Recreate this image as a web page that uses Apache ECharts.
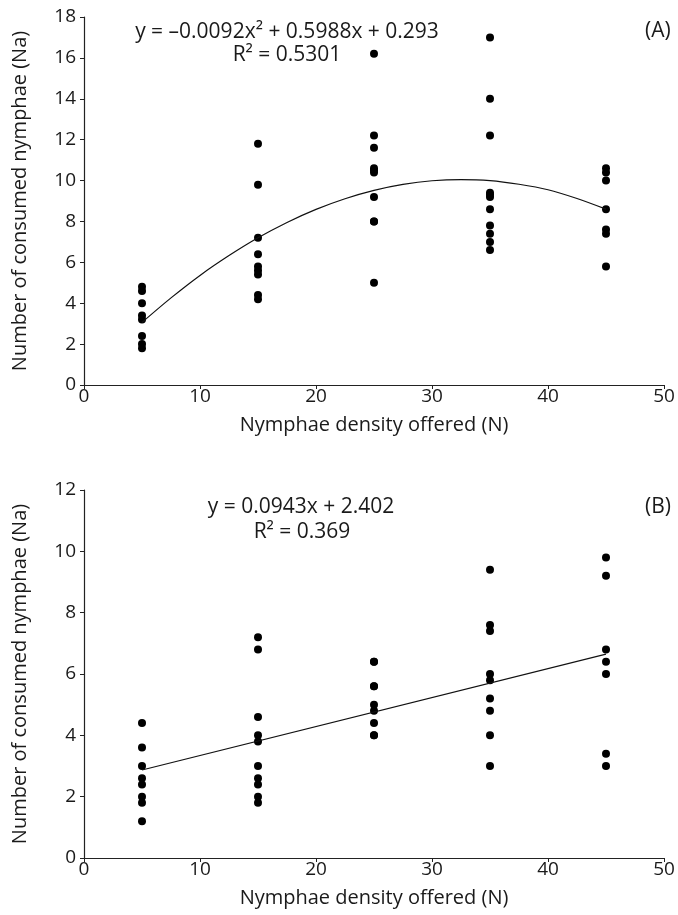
<!DOCTYPE html>
<html>
<head>
<meta charset="utf-8">
<script src="https://cdn.jsdelivr.net/npm/echarts@6/dist/echarts.min.js"></script>
<style>
html,body{margin:0;padding:0;background:#fff;}
#main{width:678px;height:915px;}
</style>
</head>
<body>
<div id="main"></div>
<script>
// panel A : nymphae offered vs consumed
var aX5 = [4.8, 4.6, 4.0, 3.4, 3.2, 2.4, 2.0, 1.8];
var aX15 = [11.8, 9.8, 7.2, 6.4, 5.8, 5.6, 5.4, 4.4, 4.2];
var aX25 = [16.2, 12.2, 11.6, 10.6, 10.5, 10.4, 9.2, 8.0, 8.0, 5.0];
var aX35 = [17.0, 14.0, 12.2, 9.4, 9.3, 9.2, 8.6, 7.8, 7.4, 7.0, 6.6];
var aX45 = [10.6, 10.4, 10.0, 8.6, 7.6, 7.4, 5.8];
// trend curve
var aFitX = [5, 7.5, 10, 12.5, 15, 17.5, 20, 22.5, 25, 27.5, 30, 32.5, 35, 37.5, 40, 42.5, 45];
var aFitY = [3.06, 4.26, 5.36, 6.33, 7.20, 7.95, 8.59, 9.11, 9.52, 9.81, 9.99, 10.05, 10.0, 9.82, 9.55, 9.12, 8.6];

// panel B
var bX5 = [4.4, 3.6, 3.0, 2.6, 2.4, 2.0, 1.8, 1.2];
var bX15 = [7.2, 6.8, 4.6, 4.0, 3.8, 3.0, 2.6, 2.4, 2.0, 1.8];
var bX25 = [6.4, 6.4, 5.6, 5.6, 5.0, 4.8, 4.4, 4.0, 4.0];
var bX35 = [9.4, 7.6, 7.4, 6.0, 5.8, 5.2, 4.8, 4.0, 3.0];
var bX45 = [9.8, 9.2, 6.8, 6.4, 6.0, 3.4, 3.0];
var bFitX = [5, 45];
var bFitY = [2.87, 6.65];

var densities = [5, 15, 25, 35, 45];

function pts(groups) {
	var out = [];
	for (var i = 0; i < groups.length; i++) {
		for (var j = 0; j < groups[i].length; j++) {
			out.push([densities[i], groups[i][j]]);
		}
	}
	return out;
}
function zip(xs, ys) {
	var out = [];
	for (var i = 0; i < xs.length; i++) out.push([xs[i], ys[i]]);
	return out;
}

var fontF = '"Open Sans", sans-serif';
var axisCol = '#222';
var txt = {color: '#1a1a1a', fontFamily: fontF, fontSize: 20};

function xAx(idx) {
	return {
		gridIndex: idx, type: 'value', min: 0, max: 50, interval: 10,
		name: 'Nymphae density offered (N)', nameLocation: 'middle', nameGap: 30,
		nameTextStyle: txt,
		axisLine: {show: true, lineStyle: {color: axisCol, width: 1.2}},
		axisTick: {show: true, length: 4, lineStyle: {color: axisCol}},
		axisLabel: {color: '#1a1a1a', fontFamily: fontF, fontSize: 19, margin: 2},
		splitLine: {show: false}
	};
}
function yAx(idx, max) {
	return {
		gridIndex: idx, type: 'value', min: 0, max: max, interval: 2,
		name: 'Number of consumed nymphae (Na)', nameLocation: 'middle', nameGap: 54,
		nameTextStyle: txt,
		axisLine: {show: true, lineStyle: {color: axisCol, width: 1.2}},
		axisTick: {show: true, length: 4, lineStyle: {color: axisCol}},
		axisLabel: {color: '#1a1a1a', fontFamily: fontF, fontSize: 19, margin: 8},
		splitLine: {show: false}
	};
}
function label(text, x, y, align) {
	return {text: text, left: x, top: y, textAlign: align,
		textStyle: {fontWeight: 'normal', color: '#1a1a1a', fontFamily: fontF, fontSize: 21}};
}

var chart = echarts.init(document.getElementById('main'));
var option = {
	animation: false,
	backgroundColor: '#fff',
	grid: [
		{left: 84, right: 14, top: 17, height: 368},
		{left: 84, right: 14, top: 490, height: 368}
	],
	xAxis: [xAx(0), xAx(1)],
	yAxis: [yAx(0, 18), yAx(1, 12)],
	title: [
		label('y = \u20130.0092x\u00b2 + 0.5988x + 0.293', 282, 17, 'center'),
		label('R\u00b2 = 0.5301', 282, 40, 'center'),
		label('(A)', 640, 16, 'left'),
		label('y = 0.0943x + 2.402', 296, 492, 'center'),
		label('R\u00b2 = 0.369', 297, 517, 'center'),
		label('(B)', 640, 492, 'left')
	],
	series: [
		{type: 'scatter', xAxisIndex: 0, yAxisIndex: 0, data: pts([aX5, aX15, aX25, aX35, aX45]),
			symbolSize: 8, itemStyle: {color: '#000', opacity: 1}},
		{type: 'line', xAxisIndex: 0, yAxisIndex: 0, data: zip(aFitX, aFitY), smooth: 0.3,
			showSymbol: false, lineStyle: {color: '#111', width: 1.2}},
		{type: 'scatter', xAxisIndex: 1, yAxisIndex: 1, data: pts([bX5, bX15, bX25, bX35, bX45]),
			symbolSize: 8, itemStyle: {color: '#000', opacity: 1}},
		{type: 'line', xAxisIndex: 1, yAxisIndex: 1, data: zip(bFitX, bFitY),
			showSymbol: false, lineStyle: {color: '#111', width: 1.2}}
	]
};
chart.setOption(option);
</script>
</body>
</html>
